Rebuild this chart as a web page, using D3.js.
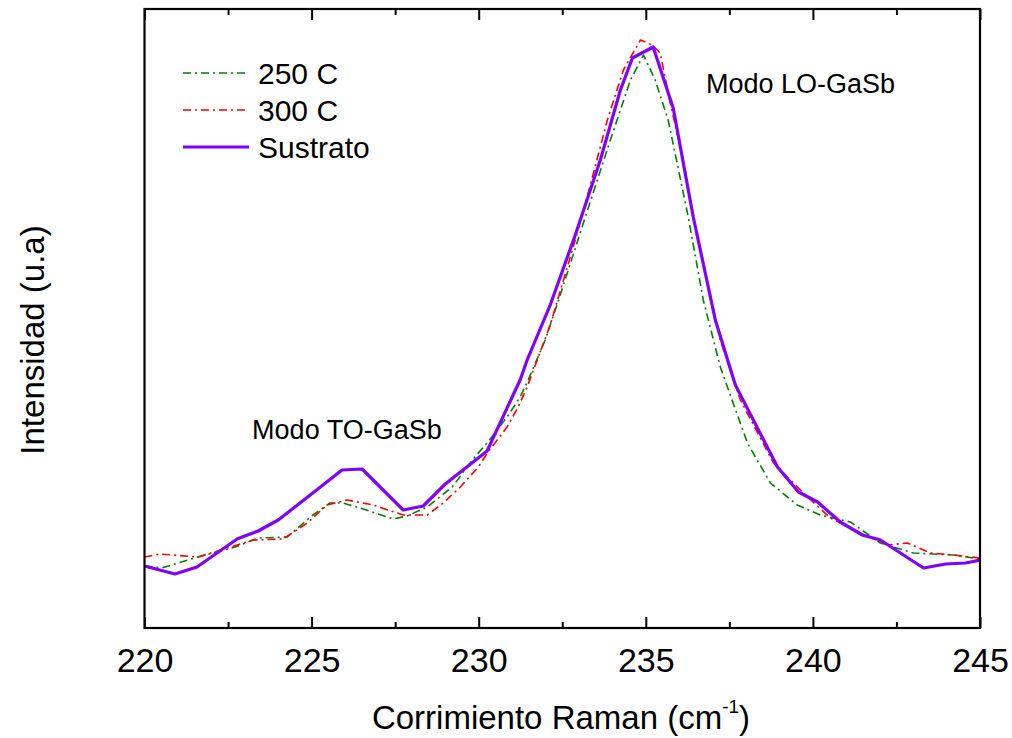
<!DOCTYPE html>
<html>
<head>
<meta charset="utf-8">
<script src="https://cdn.jsdelivr.net/npm/d3@7"></script>
<style>
  html, body { margin: 0; padding: 0; background: #fff; }
  svg { display: block; font-family: Arial, "Liberation Sans", Helvetica, sans-serif; }
</style>
</head>
<body>
<svg id="chart" width="1012" height="738"></svg>
<script>
// ---- Data (Raman shift cm^-1, intensity a.u.) ----
const seriesNames = ["250 C", "300 C", "Sustrato"];

const x250 = [220.0, 220.52, 221.6, 222.71, 223.4, 224.27, 225.04, 225.55, 225.94, 226.45, 227.44, 227.86, 228.46, 229.21, 229.81, 230.25, 230.85, 231.24, 231.48, 231.99, 232.44, 233.19, 233.94, 234.54, 234.93, 235.28, 235.67, 236.27, 236.72, 237.23, 238.04, 238.73, 239.53, 240.22, 241.12, 242.02, 243.01, 244.21, 245.0];
const y250 = [62, 60, 71, 81, 90, 91, 113, 125, 125, 120, 109, 112, 121, 141, 168, 185, 211, 231, 248, 288, 333, 411, 488, 548, 573, 548, 508, 411, 328, 261, 185, 145, 123, 113, 106, 85, 75, 73, 69];

const x300 = [220.0, 220.46, 221.6, 222.77, 223.25, 224.15, 224.87, 225.46, 226.06, 226.84, 227.74, 228.46, 228.94, 229.45, 229.99, 230.28, 230.85, 231.18, 231.45, 232.14, 232.89, 233.34, 233.85, 234.33, 234.84, 235.19, 235.43, 235.73, 236.12, 236.42, 237.23, 237.83, 238.82, 239.84, 240.52, 241.42, 242.23, 242.83, 243.52, 244.21, 245.0];
const y300 = [71, 74, 71, 83, 88, 89, 105, 123, 128, 123, 113, 113, 125, 141, 161, 176, 201, 221, 241, 303, 388, 443, 508, 558, 588, 583, 575, 525, 468, 411, 288, 228, 165, 131, 110, 95, 83, 85, 75, 73, 70];

const xSus = [220.0, 220.91, 221.57, 222.77, 223.4, 224.0, 224.96, 225.91, 226.51, 227.74, 228.34, 229.0, 230.25, 231.24, 231.45, 232.14, 232.89, 233.64, 234.24, 234.6, 235.22, 235.82, 236.42, 237.08, 237.68, 238.94, 239.57, 240.14, 240.82, 241.48, 242.02, 243.31, 243.97, 244.57, 245.0];
const ySus = [62, 54, 61, 89, 97, 108, 133, 158, 159, 118, 122, 144, 177, 248, 268, 323, 393, 468, 538, 570, 581, 520, 411, 308, 243, 161, 136, 126, 106, 93, 88, 60, 64, 65, 68];

const xTicksMajor = [220, 225, 230, 235, 240, 245];
const xTicksMinor = [222.5, 227.5, 232.5, 237.5, 242.5];

const annotations = [
  { text: "Modo TO-GaSb", x: 223.22, y: 189 },
  { text: "Modo LO-GaSb", x: 236.8, y: 535 }
];

// ---- Layout ----
const svg = d3.select("#chart");
const padL = 144.5, padR = 980, padT = 9, padB = 628;

const x = d3.scaleLinear().domain([220, 245]).range([padL, padR]);
const y = d3.scaleLinear().domain([0, 619]).range([padB, padT]);

svg.append("defs").append("clipPath").attr("id", "clip")
  .append("rect").attr("x", padL).attr("y", padT)
  .attr("width", padR - padL).attr("height", padB - padT);

const styles = [
  { color: "#008000", width: 1.6, dash: "8,4,2,4" },
  { color: "#FF0000", width: 1.6, dash: "8,4,2,4" },
  { color: "#7F00FF", width: 3.2, dash: null }
];
const data = [
  d3.zip(x250, y250),
  d3.zip(x300, y300),
  d3.zip(xSus, ySus)
];

const line = d3.line().x(d => x(d[0])).y(d => y(d[1])).curve(d3.curveLinear);

const g = svg.append("g").attr("clip-path", "url(#clip)");
data.forEach((d, i) => {
  g.append("path").datum(d)
    .attr("fill", "none")
    .attr("stroke", styles[i].color)
    .attr("stroke-width", styles[i].width)
    .attr("stroke-dasharray", styles[i].dash)
    .attr("stroke-linejoin", "round")
    .attr("d", line);
});

// Axes (ticks inward)
const axisBottom = d3.axisBottom(x).tickValues(xTicksMajor).tickSize(-11).tickPadding(0).tickFormat(d3.format("d"));
const axisTop = d3.axisTop(x).tickValues(xTicksMajor).tickSize(-11).tickFormat("");
const minorBottom = d3.axisBottom(x).tickValues(xTicksMinor).tickSize(-6).tickFormat("");
const minorTop = d3.axisTop(x).tickValues(xTicksMinor).tickSize(-6).tickFormat("");

function styleAxis(sel) {
  sel.select(".domain").remove();
  sel.selectAll(".tick line").attr("stroke", "#000").attr("stroke-width", 2);
}

const gb = svg.append("g").attr("transform", `translate(0,${padB})`).call(axisBottom).call(styleAxis);
gb.selectAll(".tick text").attr("y", 44).attr("dy", null).attr("font-size", 34).attr("fill", "#000")
  .attr("font-family", "Arial, 'Liberation Sans', sans-serif");
svg.append("g").attr("transform", `translate(0,${padT})`).call(axisTop).call(styleAxis);
svg.append("g").attr("transform", `translate(0,${padB})`).call(minorBottom).call(styleAxis);
svg.append("g").attr("transform", `translate(0,${padT})`).call(minorTop).call(styleAxis);

// Frame
svg.append("rect").attr("x", padL).attr("y", padT)
  .attr("width", padR - padL).attr("height", padB - padT)
  .attr("fill", "none").attr("stroke", "#000").attr("stroke-width", 2.2);

// Axis titles
const xt = svg.append("text").attr("x", 561).attr("y", 729)
  .attr("text-anchor", "middle").attr("font-size", 33).attr("fill", "#000");
xt.append("tspan").text("Corrimiento Raman (cm");
xt.append("tspan").text("-1").attr("font-size", 19).attr("dy", -16);
xt.append("tspan").text(")").attr("dy", 16);

svg.append("text").attr("transform", "translate(44,340) rotate(-90)")
  .attr("text-anchor", "middle").attr("font-size", 33).attr("fill", "#000")
  .text("Intensidad (u.a)");

// Annotations
annotations.forEach(a => {
  svg.append("text").attr("x", x(a.x)).attr("y", y(a.y))
    .attr("font-size", 27).attr("fill", "#000").text(a.text);
});

// Legend
const legY = [73, 110, 147];
seriesNames.forEach((name, i) => {
  svg.append("line").attr("x1", 183).attr("x2", 249)
    .attr("y1", legY[i]).attr("y2", legY[i])
    .attr("stroke", styles[i].color).attr("stroke-width", styles[i].width)
    .attr("stroke-dasharray", styles[i].dash);
  svg.append("text").attr("x", 258).attr("y", legY[i] + 11)
    .attr("font-size", 30).attr("fill", "#000").text(name);
});
</script>
</body>
</html>
